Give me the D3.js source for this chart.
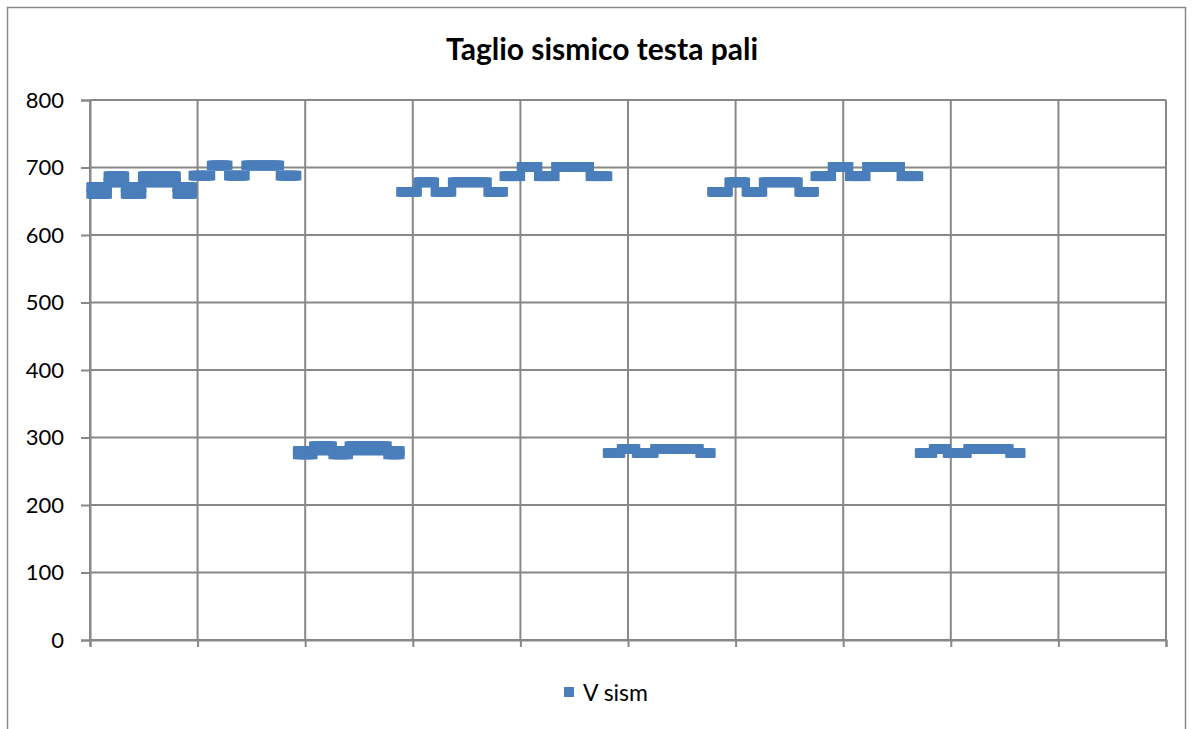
<!DOCTYPE html>
<html>
<head>
<meta charset="utf-8">
<script src="https://cdn.jsdelivr.net/npm/d3@7"></script>
<style>
  body { margin: 0; background: #fff; }
  text { font-family: Lato, "Open Sans", sans-serif; }
</style>
</head>
<body>
<div id="chart"></div>
<script>
// step runs of the series (x index from, x index to, V sism value)
var segStart = [1, 17, 33, 49, 81, 1, 17, 33, 49, 81, 96, 113, 129, 145, 177,
                193, 208, 226, 241, 277, 193, 208, 226, 241, 277,
                289, 305, 321, 337, 370, 385, 401, 417, 433, 465,
                481, 494, 508, 525, 567,
                578, 594, 610, 626, 659, 674, 690, 706, 722, 754,
                771, 784, 797, 816, 855];
var segEnd   = [17, 33, 49, 81, 96, 17, 33, 49, 81, 96, 113, 129, 145, 177, 193,
                208, 226, 241, 277, 289, 208, 226, 241, 277, 289,
                305, 321, 337, 370, 385, 401, 417, 433, 465, 482,
                494, 508, 525, 567, 578,
                594, 610, 626, 659, 674, 690, 706, 722, 754, 771,
                784, 797, 816, 855, 866];
var segValue = [661, 678, 661, 678, 661, 671, 687, 671, 687, 671, 688, 703, 688, 703, 688,
                275, 281, 275, 281, 275, 280, 287, 280, 287, 280,
                664, 678, 664, 678, 664, 687, 701, 687, 701, 687,
                277, 283, 277, 283, 277,
                664, 678, 664, 678, 664, 687, 701, 687, 701, 687,
                277, 283, 277, 283, 277];
var yTicks = [0, 100, 200, 300, 400, 500, 600, 700, 800];
var xTicks = [0, 100, 200, 300, 400, 500, 600, 700, 800, 900, 1000];
var seriesName = "V sism";
var chartTitle = "Taglio sismico testa pali";

(function() {
    var width = 1192, height = 729;
    var pLeft = 90, pRight = 1166, pTop = 100, pBottom = 640;
    var blue = "#4A7EBB", grid = "#888888";

    var svg = d3.select("#chart").append("svg")
        .attr("width", width)
        .attr("height", height);

    // outer chart border
    svg.append("rect")
        .attr("x", 7.5).attr("y", 7.5)
        .attr("width", 1178).attr("height", 740)
        .attr("fill", "white")
        .attr("stroke", "#8a8a8a")
        .attr("stroke-width", 1.5);

    var x = d3.scaleLinear().domain([0, 1000]).range([pLeft, pRight]);
    var y = d3.scaleLinear().domain([0, 800]).range([pBottom, pTop]);

    // gridlines
    svg.append("g").selectAll("line").data(yTicks).enter().append("line")
        .attr("x1", pLeft).attr("x2", pRight)
        .attr("y1", d => y(d)).attr("y2", d => y(d))
        .attr("stroke", grid).attr("stroke-width", 2);
    svg.append("g").selectAll("line").data(xTicks).enter().append("line")
        .attr("x1", d => x(d)).attr("x2", d => x(d))
        .attr("y1", pTop).attr("y2", pBottom)
        .attr("stroke", grid).attr("stroke-width", 2);

    // axes
    var yAxis = svg.append("g")
        .attr("transform", "translate(" + pLeft + ",0)")
        .call(d3.axisLeft(y).tickValues(yTicks).tickSize(9).tickPadding(17));
    var xAxis = svg.append("g")
        .attr("transform", "translate(0," + pBottom + ")")
        .call(d3.axisBottom(x).tickValues(xTicks).tickSize(7).tickFormat(""));
    [yAxis, xAxis].forEach(function(a) {
        a.select(".domain").attr("stroke", grid).attr("stroke-width", 2);
        a.selectAll(".tick line").attr("stroke", grid).attr("stroke-width", 2);
    });
    yAxis.selectAll("text")
        .attr("fill", "#000")
        .style("font-size", "22px")
        .style("font-family", "Lato, sans-serif");

    // points
    var points = [];
    segStart.forEach(function(s, i) {
        for (var k = s; k < segEnd[i]; k++) points.push({x: k, v: segValue[i]});
    });
    var ms = 9.5;
    svg.append("g").selectAll("rect").data(points).enter().append("rect")
        .attr("x", d => x(d.x) - ms / 2)
        .attr("y", d => y(d.v) - ms / 2)
        .attr("width", ms).attr("height", ms)
        .attr("fill", blue);

    // title
    svg.append("text")
        .attr("x", 602).attr("y", 60)
        .attr("text-anchor", "middle")
        .style("font-size", "30px")
        .style("font-weight", "bold")
        .text(chartTitle);

    // legend
    svg.append("rect")
        .attr("x", 564).attr("y", 687)
        .attr("width", 10).attr("height", 10)
        .attr("fill", blue);
    svg.append("text")
        .attr("x", 583).attr("y", 701)
        .style("font-size", "23px")
        .text(seriesName);
})();
</script>
</body>
</html>
